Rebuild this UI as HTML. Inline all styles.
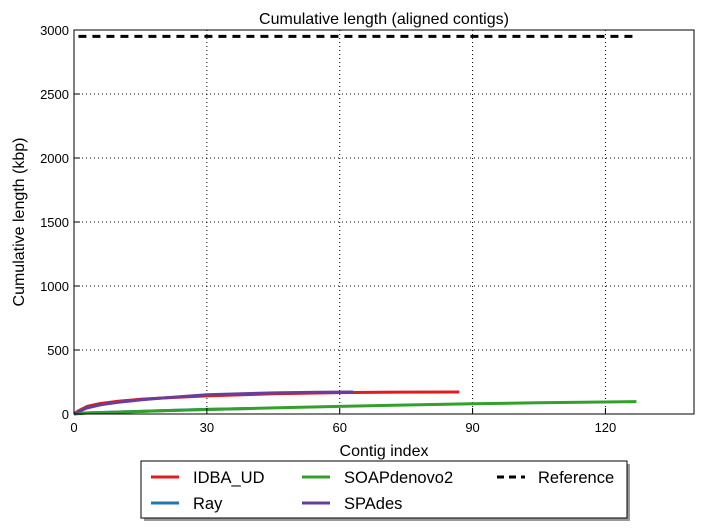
<!DOCTYPE html>
<html><head><meta charset="utf-8"><style>
body{margin:0;background:#fff;font-family:"Liberation Sans","DejaVu Sans",sans-serif}
svg{display:block}
</style></head><body>
<svg width="703" height="529" font-family="Liberation Sans, DejaVu Sans, sans-serif">
<g id="grid"></g>
<g id="series"></g>
<rect x="74" y="30" width="620" height="384" fill="none" stroke="#000" stroke-width="1"/>
<g id="ticks" font-size="13"></g>
<text x="384" y="24" text-anchor="middle" font-size="16">Cumulative length (aligned contigs)</text>
<text x="384" y="456" text-anchor="middle" font-size="16">Contig index</text>
<text x="24" y="222" text-anchor="middle" font-size="16" transform="rotate(-90 24 222)">Cumulative length (kbp)</text>
<g>
<rect x="144" y="464" width="486" height="57" fill="#999"/>
<rect x="141" y="461" width="486" height="57" fill="#fff" stroke="#000"/>
<g font-size="16.5">
<line x1="151" y1="477" x2="179" y2="477" stroke="#e41a1c" stroke-width="3"/><text x="193" y="483">IDBA_UD</text>
<line x1="151" y1="503" x2="179" y2="503" stroke="#1f78b4" stroke-width="3"/><text x="193" y="509">Ray</text>
<line x1="302" y1="477" x2="330" y2="477" stroke="#33a02c" stroke-width="3"/><text x="344" y="483">SOAPdenovo2</text>
<line x1="302" y1="503" x2="330" y2="503" stroke="#6a3d9a" stroke-width="3"/><text x="344" y="509">SPAdes</text>
<line x1="497" y1="477" x2="525" y2="477" stroke="#000" stroke-width="3" stroke-dasharray="7,5"/><text x="538" y="483">Reference</text>
</g></g>
</svg>
<script>
const xTicks=[0,30,60,90,120];
const yTicks=[0,500,1000,1500,2000,2500,3000];
const idbaX=[0,1,3,6,10,15,20,30,45,60,75,87];
const idbaY=[0,25,60,82,100,115,125,142,158,167,171,172];
const rayX=[0,1,3,6,10,20,30,40];
const rayY=[0,5,9,12,16,26,36,43];
const soapX=[0,3,10,20,30,45,60,75,90,105,127];
const soapY=[0,8,15,25,35,48,60,70,80,88,97];
const spadesX=[0,1,3,6,10,15,20,30,45,55,63];
const spadesY=[0,20,48,72,92,110,125,150,165,170,172];
const refX=[1,127];
const refY=[2950,2950];
const NS='http://www.w3.org/2000/svg';
const sx=v=>74+v*620/140, sy=v=>414-v*384/3000;
const grid=document.getElementById('grid'),ticks=document.getElementById('ticks'),ser=document.getElementById('series');
function mk(tag,attrs,parent){const e=document.createElementNS(NS,tag);for(const k in attrs)e.setAttribute(k,attrs[k]);parent.appendChild(e);return e;}
xTicks.forEach(t=>{
 if(t>0){const g=mk('line',{x1:sx(t),x2:sx(t),y1:30,y2:414,stroke:'#000','stroke-dasharray':'1,3','stroke-width':1},grid);
 
 }
 const l=mk('text',{x:sx(t),y:432,'text-anchor':'middle'},ticks);l.textContent=t;
 
 
 mk('line',{x1:sx(t),x2:sx(t),y1:414,y2:408,stroke:'#000'},ticks);
});
yTicks.forEach(t=>{
 if(t>0&&t<3000){const g=mk('line',{x1:74,x2:694,y1:sy(t),y2:sy(t),stroke:'#000','stroke-dasharray':'1,3','stroke-width':1},grid);
 
 }
 const l=mk('text',{x:69,y:sy(t)+5,'text-anchor':'end'},ticks);l.textContent=t;
 
 
 mk('line',{x1:74,x2:80,y1:sy(t),y2:sy(t),stroke:'#000'},ticks);
});
function line(xs,ys,color,name,dash){
 const p=mk('polyline',{points:xs.map((x,i)=>sx(x)+','+sy(ys[i])).join(' '),fill:'none',stroke:color,'stroke-width':3,'stroke-linejoin':'round'},ser);
 if(dash)p.setAttribute('stroke-dasharray',dash);
 
 
}
line(refX,refY,'#000','reference-line','8,6');
line(rayX,rayY,'#1f78b4','ray-line');
line(soapX,soapY,'#33a02c','soapdenovo2-line');
line(idbaX,idbaY,'#e41a1c','idba-ud-line');
line(spadesX,spadesY,'#6a3d9a','spades-line');
</script>
</body></html>
